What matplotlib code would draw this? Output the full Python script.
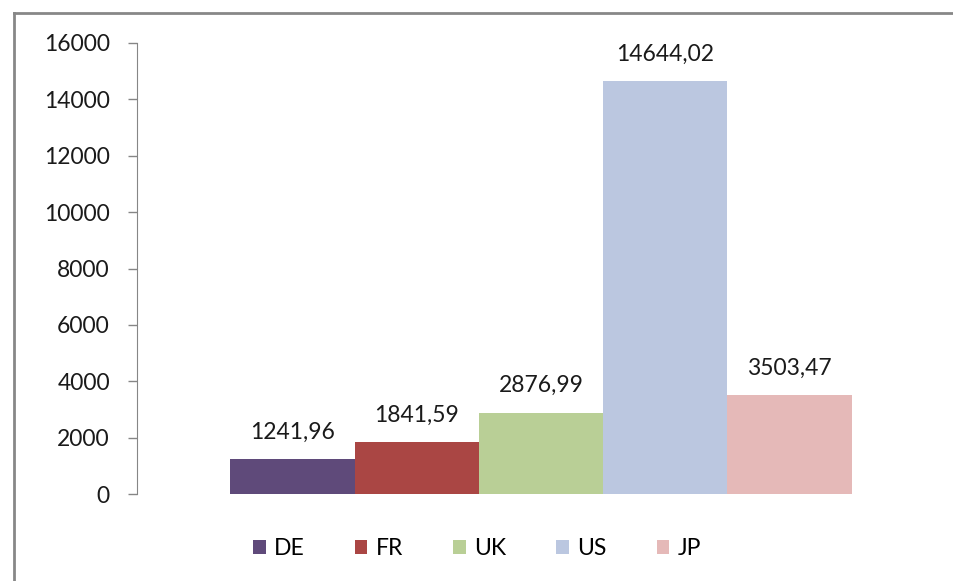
import matplotlib.pyplot as plt
from matplotlib.lines import Line2D
from matplotlib.patches import Patch

countries = ['DE', 'FR', 'UK', 'US', 'JP']
values = [1241.96, 1841.59, 2876.99, 14644.02, 3503.47]
colors = ['#5F4A7A', '#AA4644', '#B9CF96', '#BBC7E0', '#E5B9B8']

plt.rcParams['font.family'] = ['Lato', 'DejaVu Sans']

fig = plt.figure(figsize=(9.54, 5.81), dpi=100)
ax = fig.add_axes([0.1436, 0.1497, 0.847, 0.7763])

x = list(range(len(countries)))
bars = ax.bar(x, values, width=1.0, color=colors, align='center')
for rect, v in zip(bars, values):
    ax.annotate(('%.2f' % v).replace('.', ','),
                (rect.get_x() + rect.get_width() / 2, v),
                xytext=(0, 12), textcoords='offset points',
                ha='center', va='bottom', fontsize=16.5, color='#1a1a1a')

ax.set_xlim(-1.25, 5.25)
ax.set_ylim(0, 16000)
ax.set_yticks(range(0, 16001, 2000))
ax.set_xticks([])
for s in ['top', 'right', 'bottom']:
    ax.spines[s].set_visible(False)
ax.spines['left'].set_color('#868686')
ax.tick_params(axis='y', length=6.5, width=1, color='#868686', pad=13,
               labelsize=16.5, labelcolor='#1a1a1a')

handles = [Patch(facecolor=c, edgecolor='none') for c in colors]
fig.legend(handles, countries, loc='center', bbox_to_anchor=(0.50, 0.056),
           ncol=5, frameon=False, fontsize=16.5, handlelength=0.55,
           handleheight=0.55, handletextpad=0.35, columnspacing=2.2)

# outer chart border
fig.add_artist(Line2D([14 / 954, 14 / 954], [0, 1 - 13 / 581],
                      transform=fig.transFigure, color='#878787', lw=2))
fig.add_artist(Line2D([14 / 954, 1], [1 - 13 / 581, 1 - 13 / 581],
                      transform=fig.transFigure, color='#878787', lw=2))

fig.savefig('out.png', dpi=100)
